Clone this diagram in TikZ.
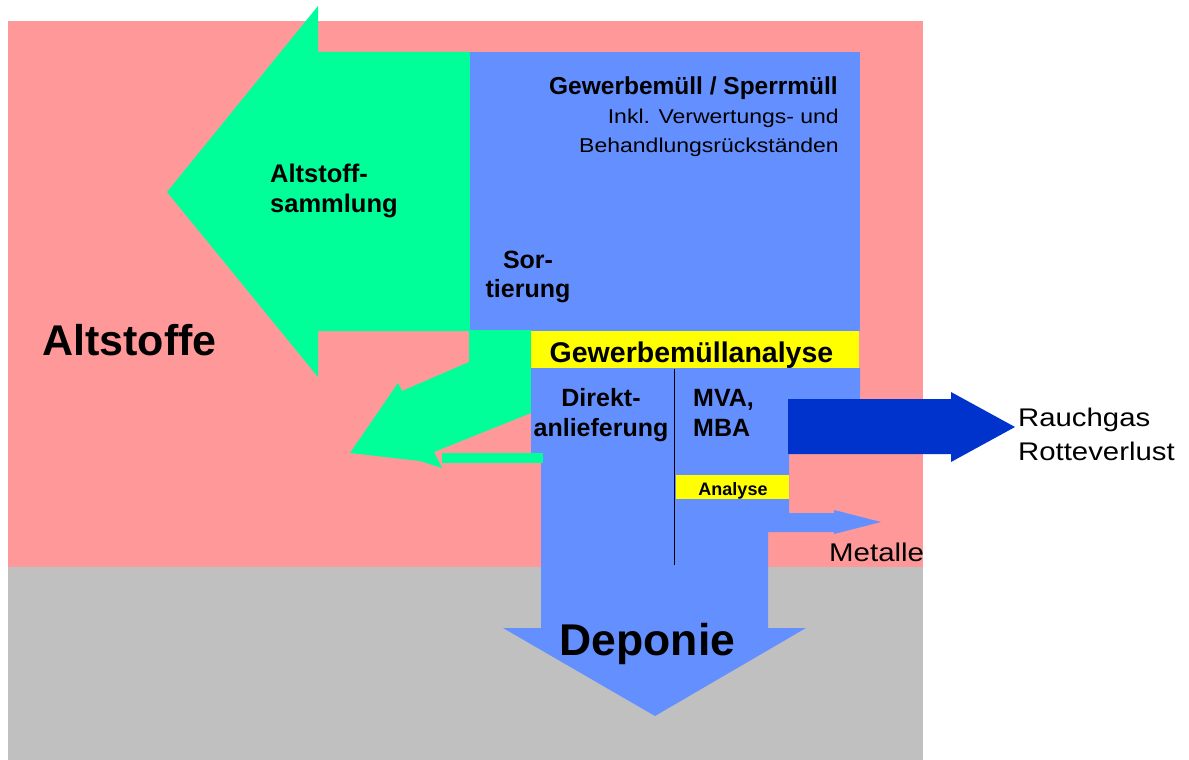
\documentclass[tikz,border=0pt]{standalone}
\usepackage{fontspec}
\setmainfont{Liberation Sans}
\newfontfamily\regfont[FakeStretch=1.15]{Liberation Sans}
\definecolor{pinkbg}{HTML}{FF9999}
\definecolor{graybg}{HTML}{C0C0C0}
\definecolor{greenf}{HTML}{00FF99}
\definecolor{bluef}{HTML}{6490FF}
\definecolor{darkbluef}{HTML}{0033CC}
\definecolor{yellowf}{HTML}{FFFF00}
\tikzset{
  bl/.style={inner sep=0pt, font=\bfseries\fontsize{#1}{#1}\selectfont},
  rg/.style={inner sep=0pt, font=\regfont\fontsize{#1}{#1}\selectfont},
}
\begin{document}
\begin{tikzpicture}[x=1pt,y=-1pt]
\useasboundingbox (0,0) rectangle (1189,760);
% backgrounds
\fill[pinkbg] (8,21) rectangle (923,567);
\fill[graybg] (8,567) rectangle (923,760);
% big green arrow
\fill[greenf] (470,52) -- (318,52) -- (318,6) -- (167,192) -- (318,377) -- (318,331) -- (470,331) -- cycle;
% main blue box
\fill[bluef] (470,52) rectangle (860,331);
% bent green arrow
\fill[greenf] (469,330) -- (531,330) -- (531,413) -- (434,452) -- (442,468) -- (420,461) -- (350,453) -- (398,383) -- (402,391) -- (469,362) -- cycle;
% lower blue shape incl. Metalle arrow and Deponie arrow
\fill[bluef] (531,368) -- (860,368) -- (860,399) -- (789,399) -- (789,513) -- (834,513) -- (834,510) -- (881,522) -- (834,534) -- (834,532) -- (768,532) -- (768,628) -- (806,628) -- (655,716) -- (503,628) -- (541,628) -- (541,453) -- (531,453) -- cycle;
% green bar
\fill[greenf] (442,453) rectangle (543,463);
% yellow bar
\fill[yellowf] (531,331) rectangle (859,368);
% dark blue arrow
\fill[darkbluef] (788,399) -- (951,399) -- (951,392) -- (1015,427) -- (951,462) -- (951,454) -- (788,454) -- cycle;
% Analyse bar
\fill[yellowf] (676,475) rectangle (789,499);
% divider line
\coordinate (lt) at (674.5,369);
\coordinate (lb) at (674.5,565);
\draw[line width=1.5pt] (lt) -- (lb);
% texts
\node[bl=43, anchor=base] (altstoffe) at (129.5,355) {Altstoffe};
\node[bl=25.5, anchor=base west] (altA) at (270,182) {Altstoff-};
\node[bl=25.5, anchor=base west] (altB) at (270,212) {sammlung};
\node[bl=24.5, anchor=base east] (gew) at (838,95) {Gewerbemüll / Sperrmüll};
\node[rg=20, anchor=base east] (inkl) at (839,123) {Inkl. Verwertungs- und};
\node[rg=20, anchor=base east] (beh) at (839,152) {Behandlungsrückständen};
\node[bl=25, anchor=base] (sorA) at (528,268) {Sor-};
\node[bl=25, anchor=base] (sorB) at (528,297) {tierung};
\node[bl=28.5, anchor=base] (gma) at (691.5,362) {Gewerbemüllanalyse};
\node[bl=25, anchor=base] (dirA) at (601,406) {Direkt-};
\node[bl=25, anchor=base] (dirB) at (601,436) {anlieferung};
\node[bl=25, anchor=base west] (mvaA) at (693,406) {MVA,};
\node[bl=25, anchor=base west] (mvaB) at (693,436) {MBA};
\node[bl=18, anchor=base] (ana) at (733,495) {Analyse};
\node[bl=44.5, anchor=base] (dep) at (647.5,655) {Deponie};
\node[rg=25.6, anchor=base west] (met) at (829,561) {Metalle};
\node[rg=25.5, anchor=base west] (rauch) at (1018,426) {Rauchgas};
\node[rg=25.5, anchor=base west] (rotte) at (1018,460) {Rotteverlust};
\end{tikzpicture}
\end{document}
